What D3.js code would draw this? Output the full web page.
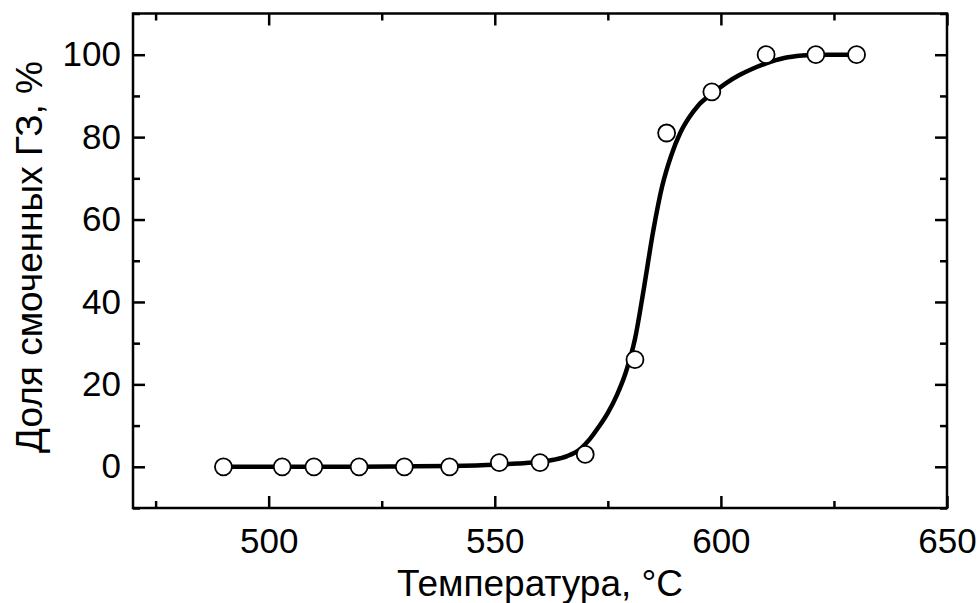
<!DOCTYPE html>
<html><head><meta charset="utf-8">
<script src="https://cdn.jsdelivr.net/npm/d3@7"></script>
<style>body{margin:0;background:#fff}svg{display:block}text{font-family:"Liberation Sans",Arial,sans-serif;fill:#000}</style>
</head><body><svg id="c" width="979" height="603"></svg>
<script>
const pointsX = [490, 503, 510, 520, 530, 540, 551, 560, 570, 581, 588, 598, 610, 621, 630];
const pointsY = [0, 0, 0, 0, 0, 0, 1, 1, 3, 26, 81, 91, 100, 100, 100];
const curveX = [490, 500, 510, 520, 530, 540, 550, 555, 560, 563, 566, 569, 571, 573, 575, 577, 579, 581, 583, 585, 587, 589, 591, 593, 595, 598, 601, 604, 607, 610, 614, 618, 622, 626, 630];
const curveY = [0, 0, 0, 0, 0.1, 0.2, 0.5, 0.8, 1.2, 1.7, 2.6, 4.4, 6.7, 9.7, 13.1, 17.4, 23.0, 31.0, 43.5, 57.0, 68.0, 75.5, 81.0, 84.8, 87.7, 90.5, 93.0, 95.0, 96.6, 97.9, 99.2, 99.8, 100, 100, 100];
const xMajor = [500, 550, 600, 650];
const xMinor = [475, 525, 575, 625];
const yMajor = [0, 20, 40, 60, 80, 100];
const yMinor = [-10, 10, 30, 50, 70, 90, 110];
const xTitle = "Температура, °C";
const yTitle = "Доля смоченных ГЗ, %";

const L = 133, R = 947, T = 13.5, B = 508;
const svg = d3.select("#c");
const x = d3.scaleLinear().domain([470, 650]).range([L, R]);
const y = d3.scaleLinear().domain([-10, 110]).range([B, T]);
const FS = 35;

function style(g){ g.select(".domain").remove(); g.selectAll("line").attr("stroke","#000").attr("stroke-width",2.5); g.selectAll("text").style("font-size",FS+"px").attr("fill","#000"); }

svg.append("g").attr("transform",`translate(0,${B})`).call(d3.axisBottom(x).tickValues(xMajor).tickSize(-12).tickPadding(20).tickFormat(d3.format("d"))).call(style);
svg.append("g").attr("transform",`translate(0,${B})`).call(d3.axisBottom(x).tickValues(xMinor).tickSize(-7).tickFormat("")).call(style);
svg.append("g").attr("transform",`translate(0,${T})`).call(d3.axisTop(x).tickValues(xMajor).tickSize(-12).tickFormat("")).call(style);
svg.append("g").attr("transform",`translate(0,${T})`).call(d3.axisTop(x).tickValues(xMinor).tickSize(-7).tickFormat("")).call(style);
svg.append("g").attr("transform",`translate(${L},0)`).call(d3.axisLeft(y).tickValues(yMajor).tickSize(-12).tickPadding(12).tickFormat(d3.format("d"))).call(style);
svg.append("g").attr("transform",`translate(${L},0)`).call(d3.axisLeft(y).tickValues(yMinor).tickSize(-7).tickFormat("")).call(style);
svg.append("g").attr("transform",`translate(${R},0)`).call(d3.axisRight(y).tickValues(yMajor).tickSize(-12).tickFormat("")).call(style);
svg.append("g").attr("transform",`translate(${R},0)`).call(d3.axisRight(y).tickValues(yMinor).tickSize(-7).tickFormat("")).call(style);

svg.append("rect").attr("x",L).attr("y",T).attr("width",R-L).attr("height",B-T)
  .attr("fill","none").attr("stroke","#000").attr("stroke-width",2.5);

const curve = curveX.map((d,i)=>[d,curveY[i]]);
svg.append("path").datum(curve)
  .attr("d", d3.line().x(d=>x(d[0])).y(d=>y(d[1])).curve(d3.curveMonotoneX))
  .attr("fill","none").attr("stroke","#000").attr("stroke-width",4.5).attr("stroke-linejoin","round");

const pts = pointsX.map((d,i)=>[d,pointsY[i]]);
svg.append("g").selectAll("circle").data(pts).join("circle")
  .attr("cx",d=>x(d[0])).attr("cy",d=>y(d[1])).attr("r",8.5)
  .attr("fill","#fff").attr("stroke","#000").attr("stroke-width",1.8);

svg.append("text").attr("x",(L+R)/2).attr("y",596).attr("text-anchor","middle")
  .style("font-size","37px").text(xTitle);
svg.append("text").attr("transform",`translate(42,257) rotate(-90)`).attr("text-anchor","middle")
  .style("font-size","37px").text(yTitle);
</script></body></html>
